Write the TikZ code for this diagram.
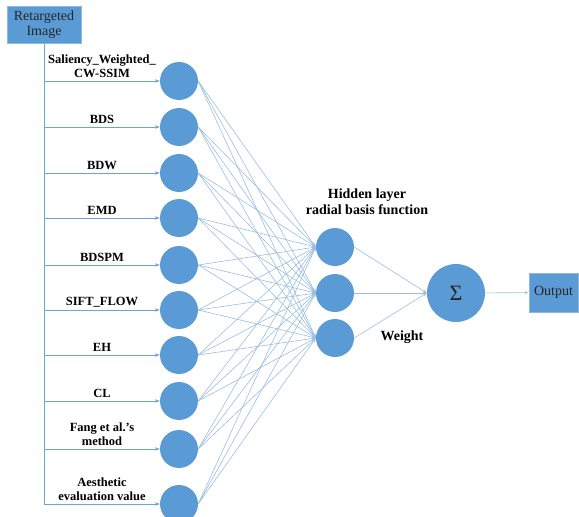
\documentclass[tikz,border=0pt]{standalone}
\usepackage{fontspec}
\setmainfont{Liberation Serif}
\usepackage{tikz}
\usetikzlibrary{arrows.meta, positioning}
\definecolor{nodeblue}{HTML}{5B9BD5}
\definecolor{linkblue}{HTML}{9BBEE0}
\definecolor{feedblue}{HTML}{6FA3D6}

\begin{document}
\begin{tikzpicture}[x=1pt, y=-1pt,
  neuron/.style={circle, fill=nodeblue, minimum size=38pt, inner sep=0pt},
  box/.style={rectangle, fill=nodeblue, draw=nodeblue!70!white, line width=1pt,
    inner sep=0pt, align=center, font=\fontsize{14}{15}\selectfont, text=black!85},
  feat/.style={anchor=south, align=center, inner sep=1pt,
    font=\fontsize{12.5}{14.5}\selectfont\bfseries},
  feed/.style={draw=feedblue, line width=0.6pt, -{Stealth[length=5pt,width=3.5pt]}},
  link/.style={draw=linkblue, line width=0.6pt, -{Stealth[length=4pt,width=3pt]}}]
\useasboundingbox (0,0) rectangle (579,517);

% Input: retargeted image and the ten quality measures
\node[box, minimum width=74pt, minimum height=37pt] (img) at (44,24.5)
{Retargeted\\Image};
\foreach \i/\y/\txt in {1/81/{Saliency\_Weighted\_\\CW-SSIM}, 2/127/BDS, 3/173/BDW,
    4/218/EMD, 5/265/BDSPM, 6/310/SIFT\_FLOW, 7/355/EH, 8/401/CL,
    9/449/{Fang et al.'s\\method}, 10/504/{Aesthetic\\evaluation value}} {
  \node[neuron] (in\i) at (179,\y) {};
  \node[feat] (lab\i) at (102,\y-2) {\txt};
  \draw[feed] (img.south |- in\i) -- (in\i);
}
\draw[feedblue, line width=0.6pt] (img.south) -- (img.south |- in10);

% Hidden layer
\node[neuron] (h1) at (335,247) {};
\node[neuron] (h2) at (335,293) {};
\node[neuron] (h3) at (335,338) {};
\node[anchor=south, align=center, font=\fontsize{14}{16}\selectfont\bfseries]
(hidlab) at (367,218) {Hidden layer\\radial basis function};

% Summation and output
\node[neuron, minimum size=58pt, font=\fontsize{22}{22}\selectfont, text=black!85] (sum) at (456,293) {Σ};
\node[box, minimum width=49pt, minimum height=39pt] (out) at (553.5,292.5) {Output};
\node[font=\fontsize{14}{16}\selectfont\bfseries] (wlab) at (402,337) {Weight};

% Connections
\foreach \i in {1,...,10}
  \foreach \j in {1,2,3}
    \draw[link] (in\i.east) -- (h\j.west);
\foreach \j in {1,2,3}
  \draw[link] (h\j.east) -- (sum.west);
\draw[link] (sum) -- (out);
\end{tikzpicture}
\end{document}
